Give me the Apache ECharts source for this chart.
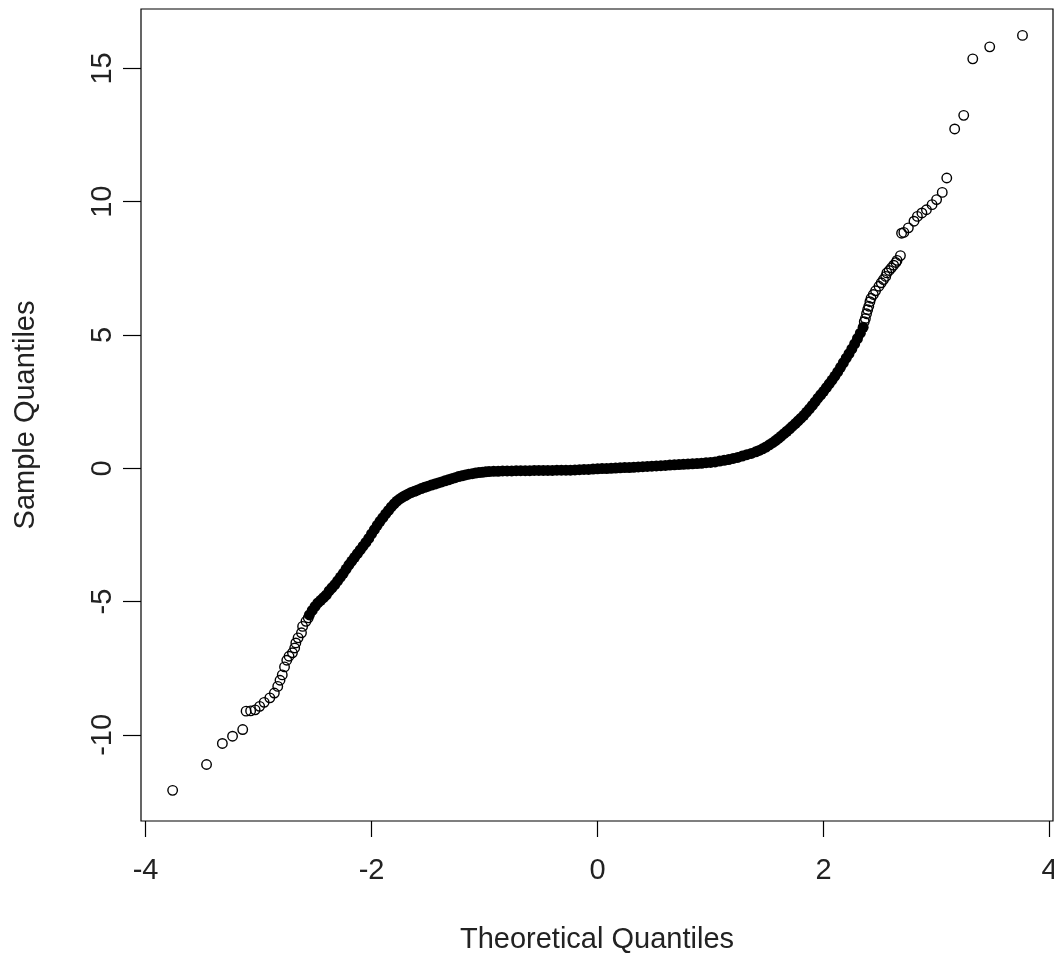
<!DOCTYPE html>
<html>
<head>
<meta charset="utf-8">
<script src="https://cdn.jsdelivr.net/npm/echarts@6/dist/echarts.min.js"></script>
<style>
  html, body { margin: 0; padding: 0; background: #fff; }
  #chart_qq { width: 1054px; height: 958px; }
</style>
</head>
<body>
<div id="chart_qq"></div>
<script>
// tick values
var xTicks = [-4, -2, 0, 2, 4];
var yTicks = [-10, -5, 0, 5, 10, 15];

// sparse points of the lower tail  [theoretical, sample]
var lowerTail = [
  [-3.76, -12.08], [-3.46, -11.11], [-3.32, -10.32], [-3.23, -10.05], [-3.14, -9.80],
  [-3.11, -9.11], [-3.07, -9.10], [-3.03, -9.06], [-2.99, -8.93], [-2.95, -8.78],
  [-2.90, -8.61], [-2.86, -8.43], [-2.83, -8.18], [-2.81, -7.95], [-2.79, -7.75],
  [-2.77, -7.45], [-2.75, -7.20], [-2.73, -7.05], [-2.70, -6.92], [-2.68, -6.74],
  [-2.67, -6.55], [-2.65, -6.36], [-2.62, -6.17], [-2.61, -5.93], [-2.58, -5.74],
  [-2.56, -5.61]
];

// dense middle of the sample, read along the band
var body = [
  [-2.55, -5.50], [-2.525, -5.33], [-2.50, -5.18], [-2.475, -5.05], [-2.45, -4.95],
  [-2.425, -4.85], [-2.40, -4.75], [-2.375, -4.60], [-2.35, -4.48], [-2.325, -4.36],
  [-2.30, -4.22], [-2.275, -4.08], [-2.25, -3.94], [-2.225, -3.78], [-2.20, -3.62],
  [-2.175, -3.48], [-2.15, -3.34], [-2.125, -3.20], [-2.10, -3.06], [-2.075, -2.92],
  [-2.05, -2.78], [-2.025, -2.63], [-2.00, -2.46], [-1.975, -2.30], [-1.95, -2.14],
  [-1.925, -1.99], [-1.90, -1.85], [-1.875, -1.71], [-1.85, -1.58], [-1.825, -1.45],
  [-1.80, -1.33], [-1.775, -1.23], [-1.75, -1.15], [-1.725, -1.08], [-1.70, -1.02],
  [-1.675, -0.96], [-1.65, -0.91], [-1.62, -0.86], [-1.59, -0.81], [-1.56, -0.76],
  [-1.53, -0.71], [-1.50, -0.67], [-1.47, -0.63], [-1.44, -0.59], [-1.41, -0.55],
  [-1.38, -0.51], [-1.35, -0.47], [-1.32, -0.43], [-1.29, -0.39], [-1.26, -0.35],
  [-1.23, -0.31], [-1.20, -0.28], [-1.17, -0.25], [-1.14, -0.22], [-1.11, -0.20],
  [-1.08, -0.18], [-1.05, -0.16], [-1.02, -0.15], [-0.99, -0.13], [-0.96, -0.12],
  [-0.92, -0.11], [-0.88, -0.11], [-0.84, -0.10], [-0.80, -0.10], [-0.76, -0.10],
  [-0.72, -0.09], [-0.68, -0.09], [-0.64, -0.09], [-0.60, -0.09], [-0.56, -0.08],
  [-0.52, -0.08], [-0.48, -0.08], [-0.44, -0.08], [-0.40, -0.08], [-0.36, -0.07],
  [-0.32, -0.07], [-0.28, -0.07], [-0.24, -0.07], [-0.20, -0.06], [-0.16, -0.05],
  [-0.12, -0.04], [-0.08, -0.04], [-0.04, -0.03], [0.00, -0.02], [0.04, -0.01],
  [0.08, -0.01], [0.12, 0.00], [0.16, 0.01], [0.20, 0.02], [0.24, 0.03],
  [0.28, 0.03], [0.32, 0.04], [0.36, 0.05], [0.40, 0.06], [0.44, 0.07],
  [0.48, 0.08], [0.52, 0.09], [0.56, 0.10], [0.60, 0.11], [0.64, 0.12],
  [0.68, 0.13], [0.72, 0.14], [0.76, 0.15], [0.80, 0.16], [0.84, 0.17],
  [0.88, 0.18], [0.92, 0.19], [0.96, 0.21], [1.00, 0.22], [1.04, 0.24],
  [1.08, 0.27], [1.12, 0.30], [1.16, 0.33], [1.20, 0.37], [1.24, 0.41],
  [1.28, 0.46], [1.32, 0.51], [1.36, 0.56], [1.40, 0.62], [1.43, 0.67],
  [1.46, 0.73], [1.49, 0.80], [1.52, 0.88], [1.55, 0.96], [1.575, 1.04],
  [1.60, 1.12], [1.625, 1.21], [1.65, 1.30], [1.675, 1.39], [1.70, 1.48],
  [1.725, 1.58], [1.75, 1.68], [1.775, 1.78], [1.80, 1.88], [1.825, 1.99],
  [1.85, 2.11], [1.875, 2.23], [1.90, 2.36], [1.925, 2.49], [1.95, 2.63],
  [1.975, 2.76], [2.00, 2.89], [2.025, 3.03], [2.05, 3.17], [2.075, 3.31],
  [2.10, 3.46], [2.125, 3.62], [2.15, 3.79], [2.175, 3.96], [2.20, 4.13],
  [2.225, 4.30], [2.25, 4.48], [2.275, 4.67], [2.30, 4.87], [2.325, 5.07],
  [2.35, 5.29]
];

// sparse points of the upper tail
var upperTail = [
  [2.36, 5.50], [2.37, 5.62], [2.38, 5.80], [2.39, 5.95], [2.40, 6.08],
  [2.41, 6.25], [2.42, 6.38], [2.44, 6.52], [2.46, 6.66], [2.49, 6.83],
  [2.51, 6.96], [2.53, 7.08], [2.55, 7.20], [2.56, 7.33], [2.58, 7.42],
  [2.60, 7.52], [2.62, 7.62], [2.64, 7.72], [2.65, 7.80], [2.68, 7.98],
  [2.69, 8.82], [2.71, 8.85], [2.75, 9.02], [2.80, 9.27], [2.83, 9.45],
  [2.87, 9.58], [2.91, 9.70], [2.96, 9.89], [3.00, 10.08], [3.05, 10.35],
  [3.09, 10.89], [3.16, 12.73], [3.24, 13.24], [3.32, 15.36], [3.47, 15.81],
  [3.76, 16.24]
];

var chart = echarts.init(document.getElementById('chart_qq'));

var textFont = {
  fontFamily: 'Liberation Sans, Arial, sans-serif',
  fontSize: 29,
  color: '#222'
};

var option = {
  animation: false,
  backgroundColor: '#fff',
  grid: {
    left: 141,
    right: 1,
    top: 9,
    bottom: 137,
    outerBoundsMode: 'none',
    containLabel: false,
    show: true,
    borderColor: '#000',
    borderWidth: 1.2,
    backgroundColor: 'transparent'
  },
  xAxis: {
    type: 'value',
    min: -4.04,
    max: 4.03,
    name: 'Theoretical Quantiles',
    nameLocation: 'middle',
    nameGap: 104,
    nameTextStyle: textFont,
    axisLine: { show: false, onZero: false },
    splitLine: { show: false },
    axisTick: {
      show: true,
      length: 16,
      customValues: xTicks,
      lineStyle: { color: '#000', width: 1.2 }
    },
    axisLabel: Object.assign({ customValues: xTicks, margin: 35 }, textFont)
  },
  yAxis: {
    type: 'value',
    min: -13.23,
    max: 17.23,
    name: 'Sample Quantiles',
    nameLocation: 'middle',
    nameGap: 101,
    nameTextStyle: textFont,
    axisLine: { show: false, onZero: false },
    splitLine: { show: false },
    axisTick: {
      show: true,
      length: 18,
      customValues: yTicks,
      lineStyle: { color: '#000', width: 1.2 }
    },
    axisLabel: Object.assign({ customValues: yTicks, rotate: 90, margin: 24 }, textFont)
  },
  series: [
    {
      name: 'body',
      type: 'scatter',
      symbol: 'circle',
      symbolSize: 11,
      itemStyle: { color: '#000', opacity: 1 },
      data: body
    },
    {
      name: 'lower tail',
      type: 'scatter',
      symbol: 'circle',
      symbolSize: 9.5,
      itemStyle: { color: 'rgba(0,0,0,0)', borderColor: '#000', borderWidth: 1.4, opacity: 1 },
      data: lowerTail
    },
    {
      name: 'upper tail',
      type: 'scatter',
      symbol: 'circle',
      symbolSize: 9.5,
      itemStyle: { color: 'rgba(0,0,0,0)', borderColor: '#000', borderWidth: 1.4, opacity: 1 },
      data: upperTail
    }
  ]
};

chart.setOption(option);
</script>
</body>
</html>
